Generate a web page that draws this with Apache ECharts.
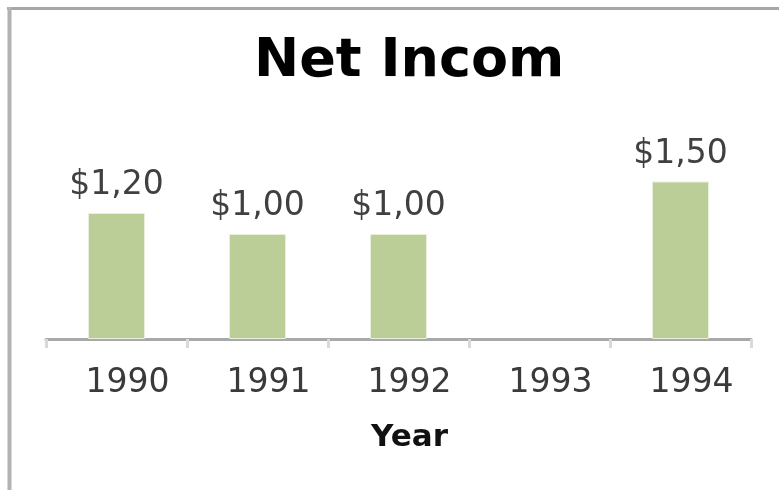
<!DOCTYPE html>
<html>
<head>
<meta charset="utf-8">
<style>
  html, body { margin: 0; padding: 0; background: #fff; }
  #chart { width: 779px; height: 490px; }
</style>
<script src="https://cdn.jsdelivr.net/npm/echarts@6/dist/echarts.min.js"></script>
</head>
<body>
<div id="chart"></div>
<script>
// Net income by year (1993 has no reported value)
const years = ['1990', '1991', '1992', '1993', '1994'];
const netIncome = [1200, 1000, 1000, null, 1500];
const chartTitle = 'Net Income';
const axisName = 'Year';

const chart = echarts.init(document.getElementById('chart'), null, { renderer: 'canvas' });

const fmtMoney = v => '$' + v.toLocaleString('en-US');

chart.setOption({
  animation: false,
  backgroundColor: '#ffffff',
  title: {
    text: chartTitle,
    left: 254,
    top: 35,
    padding: 0,
    textStyle: {
      fontFamily: 'DejaVu Sans',
      fontWeight: 'bold',
      fontSize: 54,
      color: '#000',
      width: 335,
      overflow: 'truncate',
      ellipsis: ''
    }
  },
  grid: { left: 46, right: 28, top: 129, bottom: 151, containLabel: false },
  xAxis: {
    type: 'category',
    data: years,
    boundaryGap: true,
    name: axisName,
    nameLocation: 'middle',
    nameGap: 83,
    nameTextStyle: {
      fontFamily: 'DejaVu Sans',
      fontWeight: 'bold',
      fontSize: 31,
      color: '#111',
      padding: [0, 0, 0, 22]
    },
    axisLine: { show: true, lineStyle: { color: '#a9a9a9', width: 3 } },
    axisTick: { show: true, alignWithLabel: false, length: 9, lineStyle: { color: '#d9d9d9', width: 3 } },
    axisLabel: {
      margin: 28,
      fontFamily: 'DejaVu Sans',
      fontSize: 33,
      color: '#3a3a3a',
      padding: [0, 0, 0, 22]
    },
    splitLine: { show: false }
  },
  yAxis: {
    type: 'value',
    min: 0,
    max: 2000,
    show: false
  },
  series: [{
    type: 'bar',
    data: netIncome,
    barWidth: 57,
    itemStyle: { color: '#bbce97', borderColor: '#e8efdb', borderWidth: 1 },
    label: {
      show: true,
      position: 'top',
      distance: 11,
      formatter: p => fmtMoney(p.value),
      fontFamily: 'DejaVu Sans',
      fontSize: 33,
      color: '#404040',
      width: 100,
      overflow: 'truncate',
      ellipsis: ''
    }
  }],
  graphic: [
    { type: 'line', shape: { x1: 7, y1: 8.5, x2: 779, y2: 8.5 }, style: { stroke: '#a6a6a6', lineWidth: 3 } },
    { type: 'line', shape: { x1: 9.5, y1: 7, x2: 9.5, y2: 490 }, style: { stroke: '#b2b2b2', lineWidth: 4 } }
  ]
});
</script>
</body>
</html>
